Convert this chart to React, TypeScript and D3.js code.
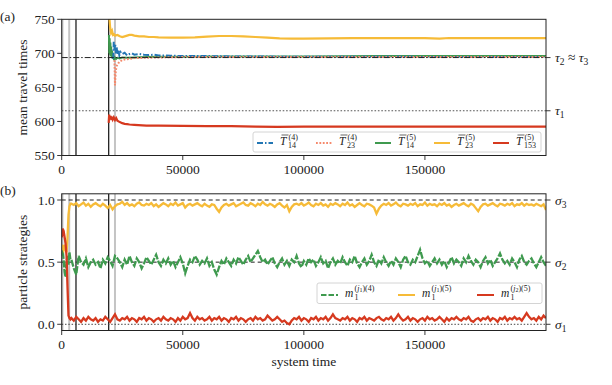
import React from 'react';
import * as d3 from 'd3';

const W = 612;
const H = 385;
const FONT = "'Liberation Serif', 'DejaVu Serif', 'Times New Roman', serif";

const xTicks = [0, 50000, 100000, 150000];
const topYTicks = [550, 600, 650, 700, 750];
const botYTicks = [0, 0.5, 1.0];
const tauHigh = 693.8;
const tauLow = 615.7;
const sigmaVals = [1.0, 0.5, 0.0];
const vGray = [300, 3100, 22000];
const vBlack = [5900, 19400];

// top panel series (time in thousands)
const yelTopT = [19.5, 19.7, 20, 20.4, 20.8, 21.2, 21.6, 22, 23, 24, 25, 26, 27, 28, 29, 30, 32, 34, 36, 38, 40, 45, 50, 55, 60, 65, 70, 75, 80, 85, 90, 95, 100, 110, 120, 130, 140, 150, 153, 156, 160, 170, 180, 190, 200];
const yelTopV = [775, 752, 738, 730, 733, 727, 728, 726, 727, 725, 724, 725, 726, 727, 727, 726, 725, 725, 724, 724, 723.5, 723, 723, 723.5, 724.5, 725.5, 725.5, 725, 724, 723, 722, 721.5, 721.5, 722, 722.5, 722.5, 722.5, 722.5, 722, 721.5, 722.5, 722.5, 722.5, 722.5, 722.5];

const bluTopT = [21.3, 21.5, 21.8, 22.1, 22.4, 22.7, 23, 23.4, 23.8, 24.3, 25, 26, 27, 28, 29, 30, 32, 34, 36, 38, 40, 45, 50, 60, 70, 80, 90, 100, 120, 140, 160, 180, 200];
const bluTopV = [692, 717, 706, 714, 700, 709, 698, 704, 697, 702, 699, 701, 697, 699, 700, 698, 699, 698, 697.5, 698, 697, 696.5, 696, 696, 695.5, 695.5, 695, 695, 695, 695, 694.5, 694.5, 694.5];

const salTopT = [21.8, 22, 22.3, 22.6, 23, 23.5, 24, 25, 26, 28, 30, 35, 40, 50, 60, 80, 100, 130, 160, 200];
const salTopV = [690, 653, 672, 681, 683, 686, 688, 690, 691, 692, 693, 693.5, 694, 694.5, 694.5, 694.5, 694.5, 694.5, 694.5, 694.5];

const grnTopT = [19.5, 19.65, 19.8, 19.95, 20.1, 20.25, 20.4, 20.6, 20.8, 21, 21.3, 21.6, 22, 22.5, 23, 24, 25, 27, 30, 35, 40, 50, 60, 80, 100, 130, 160, 200];
const grnTopV = [727, 700, 722, 698, 716, 696, 710, 694, 704, 692, 698, 690, 694, 692, 693.5, 692.5, 694, 693.5, 694, 694.5, 695, 695, 695.5, 695.5, 695.5, 696, 696, 696];

const redTopT = [19.4, 19.6, 19.9, 20.2, 20.5, 20.8, 21.1, 21.5, 22, 22.5, 23, 24, 25, 26, 27, 28, 30, 35, 40, 50, 60, 70, 80, 89, 100, 120, 150, 200];
const redTopV = [598, 610, 604, 608, 602, 607, 603, 606, 602, 605, 601, 599, 597.5, 596.5, 596, 595.5, 595, 594, 594, 593.5, 593, 593, 592.5, 592, 592.5, 592.5, 592.5, 592.5];

// bottom panel: early section, then a regular grid from 4000 to 200000 every 1000
const earlyT = [0, 400, 800, 1200, 1600, 2000, 2400, 2800, 3200, 3600];
const yelEarly = [0.6, 0.62, 0.6, 0.64, 0.6, 0.58, 0.7, 0.88, 0.95, 0.97];
const grnEarly = [0.55, 0.6, 0.52, 0.42, 0.38, 0.5, 0.55, 0.48, 0.58, 0.52];
const redEarly = [0.7, 0.77, 0.75, 0.7, 0.65, 0.55, 0.3, 0.07, 0.05, 0.04];

const yelGrid = [
  0.97, 0.96, 0.975, 0.95, 0.965, 0.98, 0.955, 0.97, 0.945, 0.965,
  0.975, 0.96, 0.95, 0.97, 0.955, 0.935, 0.96, 0.925, 0.95, 0.965,
  0.97, 0.985, 0.96, 0.975, 0.955, 0.965, 0.95, 0.97, 0.98, 0.96,
  0.955, 0.97, 0.96, 0.975, 0.95, 0.965, 0.945, 0.96, 0.975, 0.965,
  0.95, 0.97, 0.96, 0.98, 0.955, 0.965, 0.975, 0.94, 0.96, 0.97,
  0.955, 0.965, 0.975, 0.96, 0.95, 0.97, 0.955, 0.945, 0.965, 0.96,
  0.93, 0.905, 0.94, 0.96, 0.97, 0.955, 0.965, 0.975, 0.95, 0.96,
  0.97, 0.98, 0.96, 0.955, 0.975, 0.965, 0.95, 0.97, 0.96, 0.985,
  0.965, 0.955, 0.97, 0.96, 0.945, 0.965, 0.975, 0.955, 0.94, 0.96,
  0.91, 0.945, 0.965, 0.97, 0.96, 0.975, 0.955, 0.965, 0.98, 0.96,
  0.95, 0.97, 0.96, 0.975, 0.955, 0.965, 0.945, 0.97, 0.96, 0.975,
  0.965, 0.95, 0.97, 0.96, 0.98, 0.955, 0.965, 0.945, 0.96, 0.975,
  0.96, 0.95, 0.97, 0.965, 0.955, 0.94, 0.89, 0.93, 0.955, 0.97,
  0.96, 0.975, 0.955, 0.965, 0.98, 0.96, 0.95, 0.97, 0.965, 0.955,
  0.97, 0.96, 0.975, 0.95, 0.965, 0.96, 0.98, 0.955, 0.97, 0.96,
  0.965, 0.95, 0.97, 0.96, 0.975, 0.955, 0.965, 0.945, 0.96, 0.97,
  0.955, 0.965, 0.975, 0.96, 0.95, 0.97, 0.96, 0.935, 0.91, 0.945,
  0.965, 0.97, 0.955, 0.965, 0.975, 0.96, 0.95, 0.97, 0.965, 0.955,
  0.97, 0.96, 0.975, 0.95, 0.965, 0.96, 0.975, 0.955, 0.97, 0.96,
  0.965, 0.955, 0.97, 0.96, 0.95, 0.965, 0.92,
];

const grnGrid = [
  0.52, 0.45, 0.4, 0.55, 0.5, 0.48, 0.53, 0.46, 0.5, 0.52,
  0.48, 0.5, 0.45, 0.52, 0.49, 0.54, 0.51, 0.47, 0.55, 0.53,
  0.5, 0.46, 0.52, 0.48, 0.55, 0.5, 0.47, 0.53, 0.5, 0.45,
  0.49, 0.54, 0.51, 0.48, 0.52, 0.56, 0.5, 0.47, 0.52, 0.49,
  0.53, 0.48, 0.51, 0.46, 0.5, 0.54, 0.49, 0.41, 0.47, 0.52,
  0.5, 0.55, 0.52, 0.48, 0.51, 0.49, 0.53, 0.47, 0.5, 0.44,
  0.4, 0.46, 0.51, 0.48, 0.53, 0.5, 0.47, 0.52, 0.49, 0.54,
  0.51, 0.48, 0.52, 0.55, 0.5, 0.53, 0.56, 0.59, 0.54, 0.5,
  0.52, 0.48, 0.51, 0.54, 0.49, 0.46, 0.5, 0.53, 0.48, 0.51,
  0.47, 0.52, 0.5, 0.55, 0.49, 0.46, 0.51, 0.48, 0.53, 0.5,
  0.52, 0.47, 0.5, 0.54, 0.49, 0.51, 0.45, 0.5, 0.53, 0.48,
  0.51, 0.49, 0.54, 0.5, 0.47, 0.52, 0.5, 0.55, 0.49, 0.46,
  0.5, 0.53, 0.48, 0.51, 0.56, 0.5, 0.47, 0.52, 0.49, 0.54,
  0.5, 0.47, 0.51, 0.48, 0.53, 0.5, 0.46, 0.52, 0.55, 0.5,
  0.48, 0.52, 0.5, 0.55, 0.6, 0.53, 0.49, 0.51, 0.47, 0.5,
  0.53, 0.49, 0.52, 0.48, 0.51, 0.46, 0.5, 0.54, 0.49, 0.52,
  0.5, 0.47, 0.53, 0.5, 0.55, 0.51, 0.48, 0.52, 0.5, 0.46,
  0.51, 0.54, 0.49, 0.52, 0.47, 0.5, 0.53, 0.57, 0.52, 0.49,
  0.51, 0.48, 0.53, 0.5, 0.46, 0.52, 0.55, 0.5, 0.48, 0.51,
  0.53, 0.49, 0.46, 0.5, 0.54, 0.5, 0.47,
];

const redGrid = [
  0.05, 0.03, 0.06, 0.04, 0.02, 0.05, 0.03, 0.06, 0.04, 0.03,
  0.05, 0.02, 0.04, 0.03, 0.06, 0.04, 0.02, 0.05, 0.08, 0.04,
  0.03, 0.05, 0.04, 0.06, 0.03, 0.05, 0.04, 0.02, 0.05, 0.04,
  0.06, 0.03, 0.05, 0.04, 0.02, 0.04, 0.05, 0.03, 0.06, 0.04,
  0.03, 0.05, 0.04, 0.02, 0.05, 0.03, 0.06, 0.04, 0.05, 0.09,
  0.05, 0.03, 0.06, 0.04, 0.05, 0.03, 0.04, 0.06, 0.03, 0.05,
  0.04, 0.06, 0.03, 0.05, 0.04, 0.02, 0.05, 0.04, 0.06, 0.03,
  0.05, 0.04, 0.02, 0.04, 0.05, 0.03, 0.06, 0.04, 0.05, 0.03,
  0.04, 0.07, 0.05, 0.03, 0.04, 0.06, 0.04, 0.02, 0.03, 0.01,
  0.0, 0.03, 0.05, 0.04, 0.06, 0.03, 0.05, 0.04, 0.02, 0.05,
  0.04, 0.06, 0.03, 0.05, 0.04, 0.06, 0.03, 0.05, 0.08, 0.05,
  0.04, 0.03, 0.05, 0.04, 0.06, 0.03, 0.05, 0.04, 0.02, 0.05,
  0.04, 0.06, 0.03, 0.05, 0.04, 0.03, 0.05, 0.06, 0.04, 0.03,
  0.05, 0.04, 0.06, 0.03, 0.05, 0.08, 0.05, 0.03, 0.04, 0.06,
  0.03, 0.05, 0.04, 0.02, 0.04, 0.05, 0.03, 0.06, 0.04, 0.05,
  0.03, 0.04, 0.06, 0.04, 0.02, 0.05, 0.03, 0.05, 0.04, 0.06,
  0.04, 0.03, 0.05, 0.04, 0.06, 0.03, 0.02, 0.04, 0.05, 0.03,
  0.05, 0.04, 0.06, 0.03, 0.05, 0.04, 0.02, 0.05, 0.04, 0.06,
  0.03, 0.05, 0.04, 0.06, 0.04, 0.05, 0.03, 0.06, 0.09, 0.06,
  0.04, 0.05, 0.03, 0.06, 0.04, 0.07, 0.05,
];

const C_BLUE = '#2276b4';
const C_SAL = '#f5896c';
const C_GRN = '#3f9a4f';
const C_YEL = '#f6bb38';
const C_RED = '#d6391f';

const zip = (t: number[], v: number[], k = 1): [number, number][] => t.map((ti, i) => [ti * k, v[i]]);

const txt: React.CSSProperties = { fontFamily: FONT };

function TLabel({ x, y, sup, sub }: { x: number; y: number; sup: string; sub: string }) {
  return (
    <g style={txt} fill="#222">
      <text x={x} y={y} fontSize={11.5} fontStyle="italic">T</text>
      <line x1={x + 1.5} x2={x + 8.5} y1={y - 10} y2={y - 10} stroke="#222" strokeWidth={0.7} />
      <text x={x + 8.5} y={y - 5.5} fontSize={8}>{sup}</text>
      <text x={x + 8} y={y + 2.5} fontSize={8}>{sub}</text>
    </g>
  );
}

function MLabel({ x, y, j, n }: { x: number; y: number; j: string; n: string }) {
  return (
    <g style={txt} fill="#222">
      <text x={x} y={y} fontSize={11.5} fontStyle="italic">m</text>
      <text x={x + 9.5} y={y + 2.5} fontSize={8}>1</text>
      <text x={x + 9.5} y={y - 6.5} fontSize={8}>
        (<tspan fontStyle="italic">j</tspan>
        <tspan fontSize={6} dy={1.5}>{j}</tspan>
        <tspan dy={-1.5}>)({n})</tspan>
      </text>
    </g>
  );
}

export default function App() {
  const x = d3.scaleLinear().domain([0, 200000]).range([61.7, 546]);
  const yT = d3.scaleLinear().domain([550, 750]).range([155.5, 19.3]);
  const yB = d3.scaleLinear().domain([-0.05, 1.05]).range([330.5, 193.8]);

  const lineT = d3.line<[number, number]>().x((d) => x(d[0])).y((d) => yT(d[1]));
  const lineB = d3.line<[number, number]>().x((d) => x(d[0])).y((d) => yB(d[1]));

  const gridT = d3.range(4000, 200001, 1000);
  const botT = [...earlyT, ...gridT];
  const yelBot = zip(botT, [...yelEarly, ...yelGrid]);
  const grnBot = zip(botT, [...grnEarly, ...grnGrid]);
  const redBot = zip(botT, [...redEarly, ...redGrid]);

  const [x0, x1] = x.range();
  const [tB, tT] = [yT.range()[0], yT.range()[1]];
  const [bB, bT] = [yB.range()[0], yB.range()[1]];

  const vlines = (top: number, bot: number) => (
    <g>
      {vGray.map((v) => (
        <line key={'g' + v} x1={x(v)} x2={x(v)} y1={top} y2={bot} stroke="#c4c4c4" strokeWidth={2} />
      ))}
      {vBlack.map((v) => (
        <line key={'b' + v} x1={x(v)} x2={x(v)} y1={top} y2={bot} stroke="#222" strokeWidth={1.3} />
      ))}
    </g>
  );

  const xAxis = (yy: number) => (
    <g style={txt} fontSize={13.5} fill="#222">
      {xTicks.map((t) => (
        <g key={t}>
          <line x1={x(t)} x2={x(t)} y1={yy} y2={yy + 4.5} stroke="#222" strokeWidth={0.9} />
          <text x={x(t)} y={yy + 18.5} textAnchor="middle">{t}</text>
        </g>
      ))}
    </g>
  );

  return (
    <svg width={W} height={H} style={{ position: 'absolute', left: 0, top: 0, background: '#fff' }}>
      <defs>
        <clipPath id="clipT"><rect x={x0} y={tT} width={x1 - x0} height={tB - tT} /></clipPath>
        <clipPath id="clipB"><rect x={x0} y={bT} width={x1 - x0} height={bB - bT} /></clipPath>
      </defs>
      <rect width={W} height={H} fill="#fff" />

      {/* ---------- top panel ---------- */}
      <g clipPath="url(#clipT)">
        {vlines(tT, tB)}
        <line x1={x0} x2={x1} y1={yT(tauLow)} y2={yT(tauLow)} stroke="#555" strokeWidth={1} strokeDasharray="1.6,1.8" />
        <path d={lineT(zip(grnTopT, grnTopV, 1000)) || ''} fill="none" stroke={C_GRN} strokeWidth={2} />
        <path d={lineT(zip(bluTopT, bluTopV, 1000)) || ''} fill="none" stroke={C_BLUE} strokeWidth={2} strokeDasharray="6,2,1.5,2" />
        <path d={lineT(zip(salTopT, salTopV, 1000)) || ''} fill="none" stroke={C_SAL} strokeWidth={2} strokeDasharray="1.8,1.6" />
        <path d={lineT(zip(yelTopT, yelTopV, 1000)) || ''} fill="none" stroke={C_YEL} strokeWidth={2.2} />
        <path d={lineT(zip(redTopT, redTopV, 1000)) || ''} fill="none" stroke={C_RED} strokeWidth={2.2} />
        <line x1={x0} x2={x1} y1={yT(tauHigh)} y2={yT(tauHigh)} stroke="#222" strokeWidth={1} strokeDasharray="6,2,1.5,2" />
      </g>
      <rect x={x0} y={tT} width={x1 - x0} height={tB - tT} fill="none" stroke="#222" strokeWidth={1} />
      <g style={txt} fontSize={13.5} fill="#222">
        {topYTicks.map((t) => (
          <g key={t}>
            <line x1={x0 - 4.5} x2={x0} y1={yT(t)} y2={yT(t)} stroke="#222" strokeWidth={0.9} />
            <text x={x0 - 7} y={yT(t)} dy="0.35em" textAnchor="end">{t}</text>
          </g>
        ))}
        <line x1={x1} x2={x1 + 4.5} y1={yT(tauHigh)} y2={yT(tauHigh)} stroke="#222" strokeWidth={0.9} />
        <text x={x1 + 9} y={yT(tauHigh)} dy="0.35em">
          <tspan fontStyle="italic">τ</tspan><tspan fontSize={9.5} dy={3}>2</tspan>
          <tspan dy={-3}> ≈ </tspan>
          <tspan fontStyle="italic">τ</tspan><tspan fontSize={9.5} dy={3}>3</tspan>
        </text>
        <line x1={x1} x2={x1 + 4.5} y1={yT(tauLow)} y2={yT(tauLow)} stroke="#222" strokeWidth={0.9} />
        <text x={x1 + 9} y={yT(tauLow)} dy="0.35em">
          <tspan fontStyle="italic">τ</tspan><tspan fontSize={9.5} dy={3}>1</tspan>
        </text>
        <text x={0} y={20.5}>(a)</text>
        <text transform={`translate(27,${(tT + tB) / 2}) rotate(-90)`} textAnchor="middle">mean travel times</text>
      </g>
      {xAxis(tB)}

      {/* top legend */}
      <rect x={253} y={132} width={288} height={20} rx={2} fill="#fff" fillOpacity={0.85} stroke="#cfcfcf" strokeWidth={0.9} />
      <line x1={257} x2={273} y1={143} y2={143} stroke={C_BLUE} strokeWidth={2} strokeDasharray="6,2,1.5,2" />
      <TLabel x={280} y={145} sup="(4)" sub="14" />
      <line x1={316} x2={332} y1={143} y2={143} stroke={C_SAL} strokeWidth={2} strokeDasharray="1.8,1.6" />
      <TLabel x={339} y={145} sup="(4)" sub="23" />
      <line x1={375} x2={391} y1={143} y2={143} stroke={C_GRN} strokeWidth={2} />
      <TLabel x={398} y={145} sup="(5)" sub="14" />
      <line x1={434} x2={450} y1={143} y2={143} stroke={C_YEL} strokeWidth={2} />
      <TLabel x={457} y={145} sup="(5)" sub="23" />
      <line x1={493} x2={509} y1={143} y2={143} stroke={C_RED} strokeWidth={2} />
      <TLabel x={516} y={145} sup="(5)" sub="153" />

      {/* ---------- bottom panel ---------- */}
      <g clipPath="url(#clipB)">
        {vlines(bT, bB)}
        <line x1={x0} x2={x1} y1={yB(sigmaVals[0])} y2={yB(sigmaVals[0])} stroke="#222" strokeWidth={1} strokeDasharray="4,3" />
        <line x1={x0} x2={x1} y1={yB(sigmaVals[1])} y2={yB(sigmaVals[1])} stroke="#222" strokeWidth={1} strokeDasharray="4,3" />
        <line x1={x0} x2={x1} y1={yB(sigmaVals[2])} y2={yB(sigmaVals[2])} stroke="#444" strokeWidth={1} strokeDasharray="1.5,1.8" />
        <path d={lineB(grnBot) || ''} fill="none" stroke={C_GRN} strokeWidth={2.3} strokeDasharray="7,1.5" />
        <path d={lineB(yelBot) || ''} fill="none" stroke={C_YEL} strokeWidth={2.3} />
        <path d={lineB(redBot) || ''} fill="none" stroke={C_RED} strokeWidth={2.3} />
      </g>
      <rect x={x0} y={bT} width={x1 - x0} height={bB - bT} fill="none" stroke="#222" strokeWidth={1} />
      <g style={txt} fontSize={13.5} fill="#222">
        {botYTicks.map((t) => (
          <g key={t}>
            <line x1={x0 - 4.5} x2={x0} y1={yB(t)} y2={yB(t)} stroke="#222" strokeWidth={0.9} />
            <text x={x0 - 7} y={yB(t)} dy="0.35em" textAnchor="end">{t.toFixed(1)}</text>
          </g>
        ))}
        {sigmaVals.map((s, i) => (
          <g key={s}>
            <line x1={x1} x2={x1 + 4.5} y1={yB(s)} y2={yB(s)} stroke="#222" strokeWidth={0.9} />
            <text x={x1 + 9} y={yB(s)} dy="0.35em">
              <tspan fontStyle="italic">σ</tspan><tspan fontSize={9.5} dy={3}>{3 - i}</tspan>
            </text>
          </g>
        ))}
        <text x={0} y={195}>(b)</text>
        <text transform={`translate(27,${(bT + bB) / 2}) rotate(-90)`} textAnchor="middle">particle strategies</text>
        <text x={(x0 + x1) / 2} y={366} textAnchor="middle">system time</text>
      </g>
      {xAxis(bB)}

      {/* bottom legend */}
      <rect x={317} y={283} width={225} height={20.5} rx={2} fill="#fff" fillOpacity={0.85} stroke="#cfcfcf" strokeWidth={0.9} />
      <line x1={321} x2={338} y1={295} y2={295} stroke={C_GRN} strokeWidth={2} strokeDasharray="5.5,2" />
      <MLabel x={345} y={297} j="1" n="4" />
      <line x1={398} x2={415} y1={295} y2={295} stroke={C_YEL} strokeWidth={2} />
      <MLabel x={422} y={297} j="1" n="5" />
      <line x1={477} x2={494} y1={295} y2={295} stroke={C_RED} strokeWidth={2} />
      <MLabel x={501} y={297} j="2" n="5" />
    </svg>
  );
}
